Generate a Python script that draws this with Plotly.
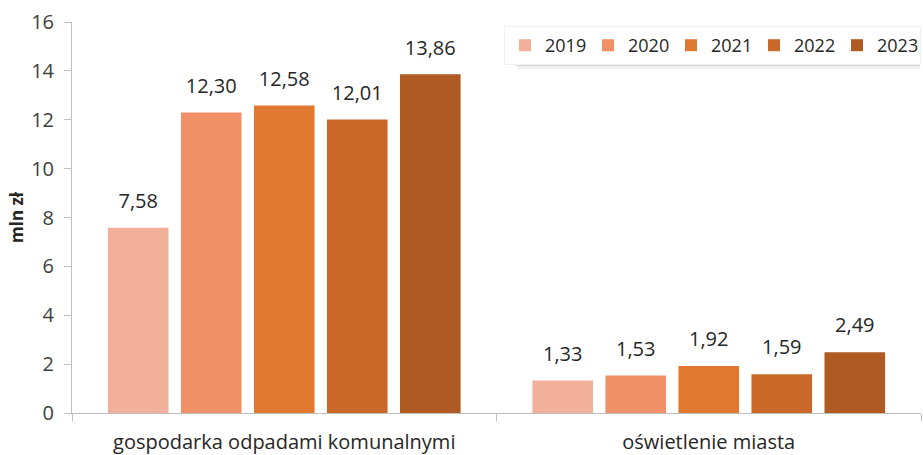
import plotly.graph_objects as go

categories = ["gospodarka odpadami komunalnymi", "oświetlenie miasta"]
years = ["2019", "2020", "2021", "2022", "2023"]
values = {
    "2019": [7.58, 1.33],
    "2020": [12.30, 1.53],
    "2021": [12.58, 1.92],
    "2022": [12.01, 1.59],
    "2023": [13.86, 2.49],
}
colors = ["#F2B09A", "#EF9066", "#E07830", "#C96829", "#AF5A22"]
y_ticks = [0, 2, 4, 6, 8, 10, 12, 14, 16]

font_family = "Open Sans, Liberation Sans, sans-serif"
text_color = "#262626"
BARGAP = 0.14

W, H = 923, 455
ML, MR, MT, MB = 72, 2, 22, 42
PW, PH = W - ML - MR, H - MT - MB


def px_x(p):
    return (p - ML) / PW


def px_y(p):
    return (H - MB - p) / PH


fig = go.Figure()
for yr, col in zip(years, colors):
    fig.add_trace(go.Bar(
        name=yr, x=categories, y=values[yr],
        marker=dict(color=col, line=dict(width=0)),
    ))
# value labels, grouped like the bars
for yr in years:
    fig.add_trace(go.Scatter(
        x=categories, y=values[yr], mode="markers+text",
        marker=dict(size=22, opacity=0),
        text=[f"{v:.2f}".replace(".", ",") for v in values[yr]],
        textposition="top center",
        textfont=dict(size=20, color=text_color, family=font_family),
        showlegend=False, hoverinfo="skip", cliponaxis=False,
    ))

# soft shadow under the legend box
for off, op in [(0, 0.45), (3, 0.3), (6, 0.15)]:
    fig.add_shape(type="rect", xref="paper", yref="paper",
                  x0=px_x(512 + off), x1=px_x(W - 3),
                  y0=px_y(63 + off), y1=px_y(58),
                  fillcolor="#9A9A9A", opacity=op, line=dict(width=0), layer="above")

fig.update_layout(
    width=W, height=H,
    margin=dict(l=ML, r=MR, t=MT, b=MB, autoexpand=False),
    paper_bgcolor="white", plot_bgcolor="white",
    barmode="group", bargap=BARGAP, bargroupgap=0.17,
    scattermode="group", scattergap=BARGAP,
    font=dict(family=font_family, size=20, color=text_color),
    showlegend=True,
    legend=dict(
        orientation="h", x=1.0, xanchor="right", y=px_y(26), yanchor="top",
        bgcolor="white", bordercolor="#F0F0F0", borderwidth=1,
        font=dict(size=18, color=text_color), itemwidth=30,
        traceorder="normal", entrywidth=38,
    ),
    yaxis=dict(
        range=[0, 16], tickvals=y_ticks, showgrid=False, zeroline=False,
        showline=True, linecolor="#BFBFBF", linewidth=1,
        ticks="outside", ticklen=7, tickcolor="#BFBFBF",
        ticklabelstandoff=6,
        tickfont=dict(size=20, color="#404040"), automargin=False,
        title=dict(text="<b>mln zł</b>", font=dict(size=17, color=text_color), standoff=3),
    ),
    xaxis=dict(
        showline=True, linecolor="#BFBFBF", linewidth=1,
        ticks="outside", ticklen=7, tickcolor="#BFBFBF",
        tickson="boundaries", automargin=False, ticklabelstandoff=11,
        tickfont=dict(size=20, color=text_color),
    ),
)

fig.write_html("out.html", config={"displayModeBar": False},
               post_script="document.body.style.margin='0';document.body.style.overflow='hidden';")
